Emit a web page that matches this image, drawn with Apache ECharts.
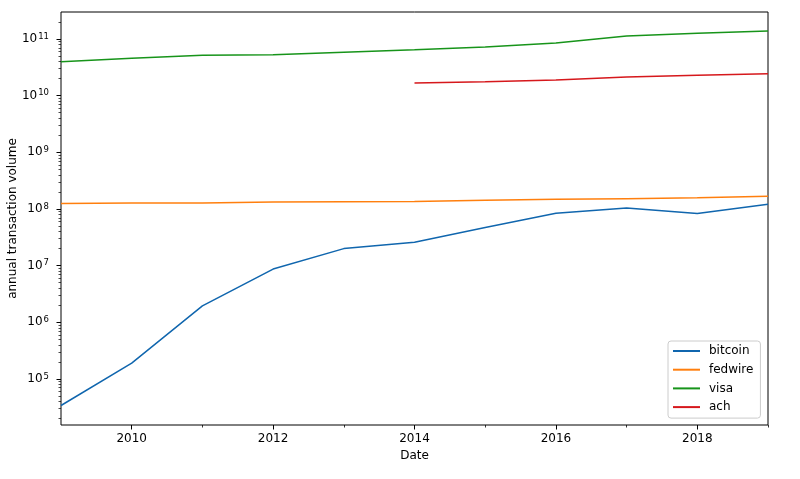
<!DOCTYPE html>
<html><head><meta charset="utf-8">
<script src="https://cdn.jsdelivr.net/npm/echarts@6/dist/echarts.min.js"></script>
<style>html,body{margin:0;padding:0;background:#fff}#c{width:800px;height:479px}</style>
</head><body><div id="c"></div>
<script>
const years = [2009, 2010, 2011, 2012, 2013, 2014, 2015, 2016, 2017, 2018, 2019];
const bitcoin = [3.4e4, 1.9e5, 1.95e6, 8.7e6, 2.0e7, 2.6e7, 4.7e7, 8.4e7, 1.04e8, 8.3e7, 1.21e8];
const fedwire = [1.247e8, 1.278e8, 1.271e8, 1.323e8, 1.345e8, 1.358e8, 1.420e8, 1.481e8, 1.520e8, 1.579e8, 1.676e8];
const visa = [3.98e10, 4.56e10, 5.15e10, 5.28e10, 5.83e10, 6.45e10, 7.2e10, 8.5e10, 1.13e11, 1.26e11, 1.38e11];
const achYears = [2014, 2015, 2016, 2017, 2018, 2019];
const ach = [1.67e10, 1.77e10, 1.89e10, 2.14e10, 2.29e10, 2.44e10];
const xMajorTicks = [2010, 2012, 2014, 2016, 2018];
const xMinorTicks = [2011, 2013, 2015, 2017, 2019];
const yMajorTicks = [1e5, 1e6, 1e7, 1e8, 1e9, 1e10, 1e11];
const yMin = 15400, yMax = 3.0e11;

const yMinorTicks = [];
for (let p = 4; p <= 11; p++) {
  for (let m = 2; m <= 9; m++) {
    const v = m * Math.pow(10, p);
    if (v > yMin && v < yMax) yMinorTicks.push(v);
  }
}

const FONT = 'DejaVu Sans';
const pairs = (xs, ys) => xs.map((x, i) => [x, ys[i]]);

const chart = echarts.init(document.getElementById('c'), null, {renderer: 'canvas'});
const baseX = {
  type: 'value', min: 2009, max: 2019, position: 'bottom', offset: 0,
  splitLine: {show: false}, axisLine: {show: false}
};
const baseY = {
  type: 'log', min: yMin, max: yMax, logBase: 10, position: 'left', offset: 0,
  splitLine: {show: false}, axisLine: {show: false}
};
chart.setOption({
  animation: false,
  grid: {left: 61, right: 32, top: 12, bottom: 54, containLabel: false, outerBoundsMode: 'none',
    show: true, borderColor: '#000', borderWidth: 1, backgroundColor: 'transparent'},
  xAxis: [
    Object.assign({}, baseX, {
      name: 'Date', nameLocation: 'middle', nameGap: 25, nameMoveOverlap: false,
      nameTextStyle: {fontFamily: FONT, fontSize: 12, color: '#000'},
      axisTick: {show: true, length: 4.5, lineStyle: {color: '#000', width: 1}, customValues: xMajorTicks},
      axisLabel: {show: true, margin: 8, fontFamily: FONT, fontSize: 12, color: '#000', customValues: xMajorTicks,
        formatter: v => String(v)}
    }),
    Object.assign({}, baseX, {
      axisTick: {show: true, length: 2.5, lineStyle: {color: '#000', width: 0.8}, customValues: xMinorTicks},
      axisLabel: {show: false}
    })
  ],
  yAxis: [
    Object.assign({}, baseY, {
      name: 'annual transaction volume', nameLocation: 'middle', nameGap: 42, nameMoveOverlap: false,
      nameTextStyle: {fontFamily: FONT, fontSize: 12, color: '#000'},
      axisTick: {show: true, length: 4.5, lineStyle: {color: '#000', width: 1}, customValues: yMajorTicks},
      axisLabel: {show: true, margin: 12, fontFamily: FONT, color: '#000', customValues: yMajorTicks,
        formatter: v => '{b|10}{e|' + Math.round(Math.log10(v)) + '}',
        rich: {
          b: {fontFamily: FONT, fontSize: 12, color: '#000'},
          e: {fontFamily: FONT, fontSize: 8.5, color: '#000', padding: [0, 0, 5, 1]}
        }}
    }),
    Object.assign({}, baseY, {
      axisTick: {show: true, length: 2.5, lineStyle: {color: '#000', width: 0.7}, customValues: yMinorTicks},
      axisLabel: {show: false}
    })
  ],
  legend: {
    orient: 'vertical', left: 668, top: 341,
    padding: [3, 7, 4, 5], itemGap: 4.7, itemWidth: 27, itemHeight: 2,
    icon: 'rect',
    borderColor: '#cccccc', borderWidth: 1, borderRadius: 3, backgroundColor: 'rgba(255,255,255,0.8)',
    textStyle: {fontFamily: FONT, fontSize: 12, color: '#000', lineHeight: 14, padding: [0, 0, 0, 4]},
    data: ['bitcoin', 'fedwire', 'visa', 'ach']
  },
  series: [
    {name: 'bitcoin', type: 'line', data: pairs(years, bitcoin), color: '#1066ae'},
    {name: 'fedwire', type: 'line', data: pairs(years, fedwire), color: '#ff7f0e'},
    {name: 'visa', type: 'line', data: pairs(years, visa), color: '#17941a'},
    {name: 'ach', type: 'line', data: pairs(achYears, ach), color: '#d6181c'}
  ].map(s => Object.assign(s, {symbol: 'none', showSymbol: false, lineStyle: {width: 1.5}, xAxisIndex: 0, yAxisIndex: 0}))
});
</script>
</body></html>
